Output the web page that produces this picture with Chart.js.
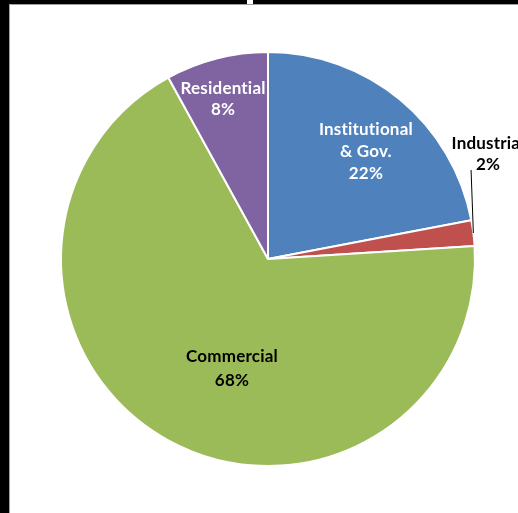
<!DOCTYPE html>
<html lang="en">
<head>
<meta charset="UTF-8">
<title>Pie</title>
<style>
  html, body { margin: 0; padding: 0; background: #000; }
  #frame {
    position: absolute; left: 9px; top: 4px; width: 520px; height: 520px;
    background: #fff; border-left: 1px solid #a0a0a0; border-top: 1px solid #a0a0a0;
  }
  #tab { position: absolute; left: 247px; top: 0; width: 6px; height: 4px; background: #fff; }
  #wrap { position: absolute; left: 0; top: 0; width: 518px; height: 513px; }
</style>
</head>
<body>
<div id="frame"></div>
<div id="tab"></div>
<div id="wrap"><canvas id="c" width="518" height="513"></canvas></div>
<script src="https://cdn.jsdelivr.net/npm/chart.js"></script>
<script>
const categories = ['Institutional & Gov.', 'Industrial', 'Commercial', 'Residential'];
const shares = [22, 2, 68, 8];
const colors = ['#4F81BD', '#C0504D', '#9BBB59', '#8064A2'];

// label text lines, colours and placement (offsets in units of the pie radius)
const labelLines = [['Institutional', '& Gov.'], ['Industrial'], ['Commercial'], ['Residential']];
const labelColors = ['#fff', '#000', '#000', '#fff'];
const labelOffsets = [[0.473, -0.517], [1.063, -0.505], [-0.174, 0.530], [-0.217, -0.771]];
const lineGap = [22, 21, 24, 21];

const labelPlugin = {
  id: 'sliceLabels',
  afterDatasetsDraw(chart) {
    const ctx = chart.ctx;
    const arcs = chart.getDatasetMeta(0).data;
    ctx.save();
    ctx.font = 'bold 17px Lato';
    ctx.letterSpacing = '0.2px';
    ctx.textAlign = 'center';
    ctx.textBaseline = 'middle';
    arcs.forEach((arc, i) => {
      const r = arc.outerRadius;
      // leader line for the small slice
      if (i === 1) {
        const mid = (arc.startAngle + arc.endAngle) / 2;
        ctx.strokeStyle = '#000';
        ctx.lineWidth = 1;
        ctx.beginPath();
        ctx.moveTo(arc.x + Math.cos(mid) * r, arc.y + Math.sin(mid) * r);
        ctx.lineTo(arc.x + 0.981 * r, arc.y - 0.43 * r);
        ctx.stroke();
      }
      const lines = labelLines[i].concat([shares[i] + '%']);
      const cx = arc.x + labelOffsets[i][0] * r;
      const cy = arc.y + labelOffsets[i][1] * r;
      const g = lineGap[i];
      const top = cy - (lines.length - 1) * g / 2;
      ctx.fillStyle = labelColors[i];
      lines.forEach((t, k) => ctx.fillText(t, cx, top + k * g));
    });
    ctx.restore();
  }
};

new Chart(document.getElementById('c'), {
  type: 'pie',
  data: {
    labels: categories,
    datasets: [{
      data: shares,
      backgroundColor: colors,
      borderColor: '#fff',
      borderWidth: 2
    }]
  },
  options: {
    responsive: false,
    animation: false,
    layout: { padding: { left: 60, right: 42, top: 51, bottom: 46 } },
    plugins: { legend: { display: false }, tooltip: { enabled: false } }
  },
  plugins: [labelPlugin]
});
</script>
</body>
</html>
